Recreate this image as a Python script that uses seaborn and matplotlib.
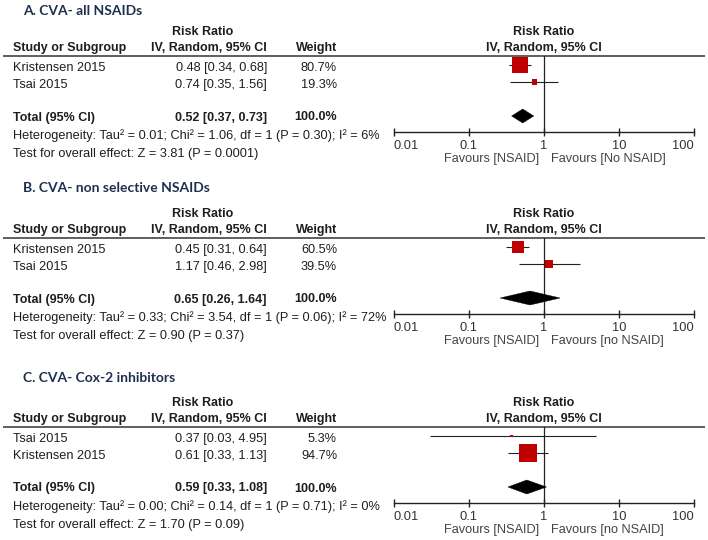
import numpy as np
import pandas as pd
import seaborn as sns
import matplotlib.pyplot as plt
from matplotlib.ticker import NullLocator

# ---- data ----
titles = ["A. CVA- all NSAIDs", "B. CVA- non selective NSAIDs", "C. CVA- Cox-2 inhibitors"]

studies_a = ["Kristensen 2015", "Tsai 2015"]
rr_a = [0.48, 0.74]
lo_a = [0.34, 0.35]
hi_a = [0.68, 1.56]
weight_a = [80.7, 19.3]
total_a = [0.52, 0.37, 0.73]

studies_b = ["Kristensen 2015", "Tsai 2015"]
rr_b = [0.45, 1.17]
lo_b = [0.31, 0.46]
hi_b = [0.64, 2.98]
weight_b = [60.5, 39.5]
total_b = [0.65, 0.26, 1.64]

studies_c = ["Tsai 2015", "Kristensen 2015"]
rr_c = [0.37, 0.61]
lo_c = [0.03, 0.33]
hi_c = [4.95, 1.13]
weight_c = [5.3, 94.7]
total_c = [0.59, 0.33, 1.08]

heterogeneity = [
    "Heterogeneity: Tau\u00b2 = 0.01; Chi\u00b2 = 1.06, df = 1 (P = 0.30); I\u00b2 = 6%",
    "Heterogeneity: Tau\u00b2 = 0.33; Chi\u00b2 = 3.54, df = 1 (P = 0.06); I\u00b2 = 72%",
    "Heterogeneity: Tau\u00b2 = 0.00; Chi\u00b2 = 0.14, df = 1 (P = 0.71); I\u00b2 = 0%",
]
overall = [
    "Test for overall effect: Z = 3.81 (P = 0.0001)",
    "Test for overall effect: Z = 0.90 (P = 0.37)",
    "Test for overall effect: Z = 1.70 (P = 0.09)",
]
favours_left = ["Favours [NSAID]"] * 3
favours_right = ["Favours [No NSAID]", "Favours [no NSAID]", "Favours [no NSAID]"]
tick_vals = [0.01, 0.1, 1, 10, 100]
tick_labels = ["0.01", "0.1", "1", "10", "100"]

# ---- layout (pixels) ----
W, H = 708, 540
title_y = [11, 188, 378]
line_y = [56, 238, 427]      # header rule of each panel
axis_off = 76                # forest axis below header rule
row_px = 17                  # pixel step per row
row0_off = 9
x_lo, x_hi = 394, 694        # 0.01 .. 100
body = "Liberation Sans"
red = "#c00000"
txt = "#1e1e1e"
fs = 9.2

sns.set_theme(style="white")
plt.rcParams["font.family"] = [body, "DejaVu Sans"]

fig = plt.figure(figsize=(W / 100, H / 100), dpi=100)
bg = fig.add_axes([0, 0, 1, 1])
bg.set_xlim(0, W)
bg.set_ylim(H, 0)
bg.axis("off")

panels = [
    (studies_a, rr_a, lo_a, hi_a, weight_a, total_a),
    (studies_b, rr_b, lo_b, hi_b, weight_b, total_b),
    (studies_c, rr_c, lo_c, hi_c, weight_c, total_c),
]

for i, (studies, rr, lo, hi, wt, tot) in enumerate(panels):
    top = line_y[i]
    df = pd.DataFrame({"study": studies, "rr": rr, "lo": lo, "hi": hi, "w": wt})
    df["row"] = np.arange(len(df))
    total_row = 3.0

    # title + headers
    bg.text(23, title_y[i], titles[i], family="Lato", weight="bold", fontsize=10,
            color="#1f2f4f", va="center")
    bg.text(203, top - 24, "Risk Ratio", weight="bold", fontsize=9, color=txt, ha="center", va="center")
    bg.text(13, top - 8, "Study or Subgroup", weight="bold", fontsize=9, color=txt, va="center")
    bg.text(267, top - 8, "IV, Random, 95% CI", weight="bold", fontsize=9, color=txt, ha="right", va="center")
    bg.text(337, top - 8, "Weight", weight="bold", fontsize=9, color=txt, ha="right", va="center")
    bg.text(544, top - 24, "Risk Ratio", weight="bold", fontsize=9, color=txt, ha="center", va="center")
    bg.text(544, top - 8, "IV, Random, 95% CI", weight="bold", fontsize=9, color=txt, ha="center", va="center")
    bg.hlines(top, 3, 705, color="#333333", lw=1.1)

    # study rows
    for _, r in df.iterrows():
        y = top + row0_off + row_px * r["row"] + 3
        bg.text(13, y, r["study"], fontsize=fs, color=txt, va="center")
        bg.text(267, y, f"{r['rr']:.2f} [{r['lo']:.2f}, {r['hi']:.2f}]", fontsize=fs,
                color=txt, ha="right", va="center")
        bg.text(337, y, f"{r['w']:.1f}%", fontsize=fs, color=txt, ha="right", va="center")
    y = top + row0_off + row_px * total_row + 1.5
    bg.text(13, y, "Total (95% CI)", weight="bold", fontsize=9, color=txt, va="center")
    bg.text(267, y, f"{tot[0]:.2f} [{tot[1]:.2f}, {tot[2]:.2f}]", weight="bold", fontsize=9,
            color=txt, ha="right", va="center")
    bg.text(337, y, "100.0%", weight="bold", fontsize=9, color=txt, ha="right", va="center")
    bg.text(13, top + 80, heterogeneity[i], fontsize=fs, color=txt, va="center")
    bg.text(13, top + 98, overall[i], fontsize=fs, color=txt, va="center")

    # forest axes
    ax_y = top + axis_off
    ax = fig.add_axes([x_lo / W, 1 - ax_y / H, (x_hi - x_lo) / W, (ax_y - top) / H])
    ax.set_xscale("log")
    ax.set_xlim(0.01, 100)
    ax.patch.set_alpha(0)
    for s in ["top", "left", "right"]:
        ax.spines[s].set_visible(False)
    ax.spines["bottom"].set_color("#222222")
    ax.spines["bottom"].set_linewidth(1.0)
    ax.axvline(1, color="#222222", lw=0.9, zorder=1)

    ax.hlines(df["row"], df["lo"], df["hi"], color="#222222", lw=0.8, zorder=2)
    side = (2 + 0.17 * df["w"]) * 0.72
    sns.scatterplot(data=df, x="rr", y="row", marker="s", color=red, s=side ** 2,
                    linewidth=0, ax=ax, zorder=3, legend=False)
    dh = 7 / row_px
    ax.fill([tot[1], tot[0], tot[2], tot[0]],
            [total_row, total_row - dh, total_row, total_row + dh],
            color="black", lw=0.3, zorder=3)
    ax.set_xlim(0.01, 100)
    ax.set_ylim((axis_off - row0_off) / row_px, -row0_off / row_px)

    ax.set_xticks(tick_vals)
    ax.set_xticklabels(tick_labels)
    ax.xaxis.set_minor_locator(NullLocator())
    ax.set_yticks([])
    ax.set_xlabel("")
    ax.set_ylabel("")
    ax.tick_params(axis="x", direction="inout", length=6, width=1, color="#222222",
                   labelsize=9.3, labelcolor="#333333", pad=3, bottom=True)
    lbls = ax.get_xticklabels()
    lbls[0].set_horizontalalignment("left")
    lbls[-1].set_horizontalalignment("right")

    bg.text(539, ax_y + 27, favours_left[i], fontsize=fs, color="#444444", ha="right", va="center")
    bg.text(551, ax_y + 27, favours_right[i], fontsize=fs, color="#444444", ha="left", va="center")

fig.savefig("out.png", dpi=100)
